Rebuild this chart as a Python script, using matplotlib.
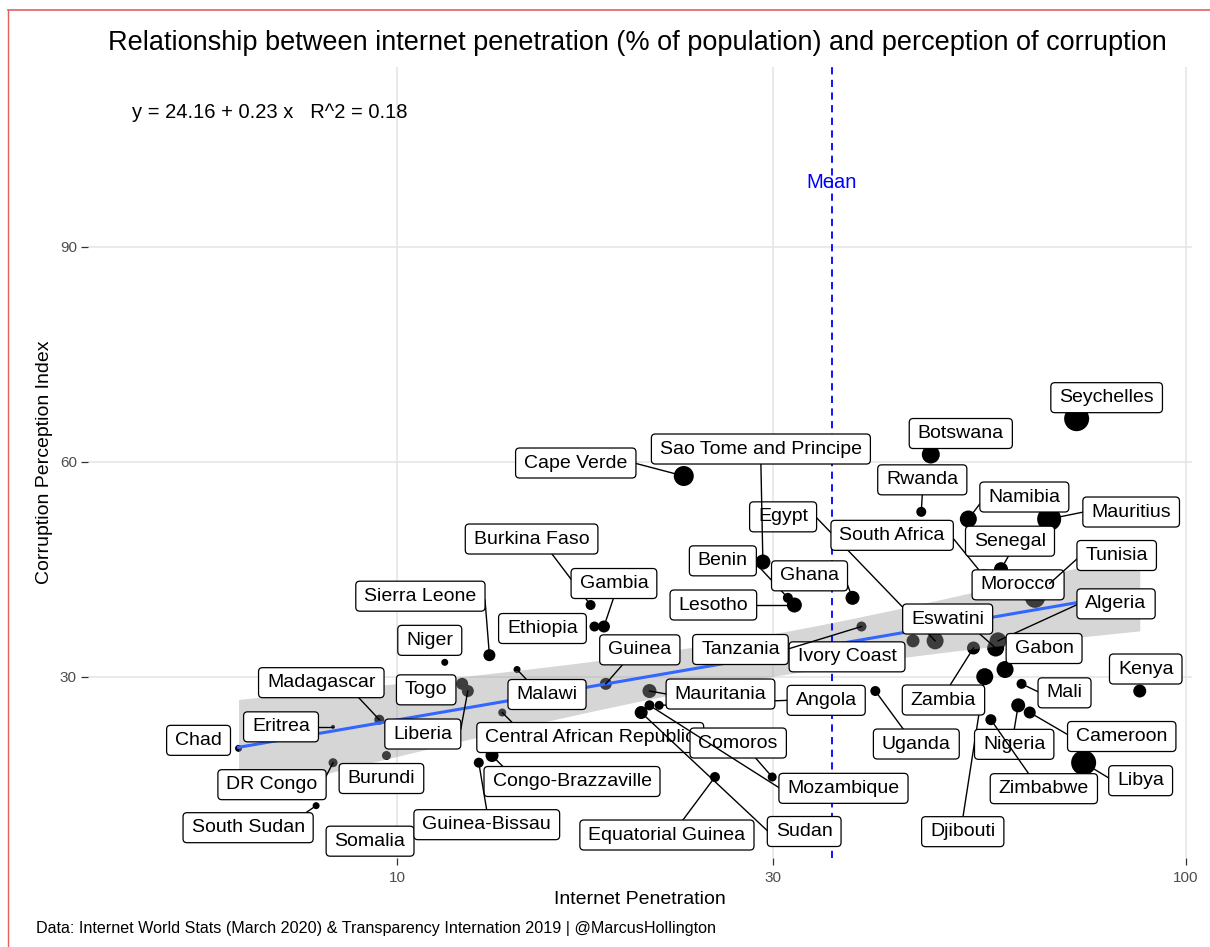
import numpy as np
import matplotlib
matplotlib.use("Agg")
import matplotlib.pyplot as plt
from matplotlib.patches import FancyBboxPatch
from matplotlib.lines import Line2D
from matplotlib.transforms import IdentityTransform
from matplotlib.ticker import FixedLocator, NullLocator

plt.rcParams['font.family'] = ['Liberation Sans', 'DejaVu Sans']

# data (internet % of population, CPI 2019, relative bubble size)
countries = ["Seychelles", "Botswana", "Egypt", "Sao Tome and Principe", "Cape Verde", "Rwanda",
             "Namibia", "Mauritius", "South Africa", "Senegal", "Morocco", "Tunisia",
             "Burkina Faso", "Benin", "Ghana", "Gambia", "Sierra Leone", "Lesotho", "Ethiopia",
             "Eswatini", "Algeria", "Niger", "Guinea", "Ivory Coast", "Tanzania", "Gabon", "Kenya",
             "Madagascar", "Togo", "Malawi", "Angola", "Mauritania", "Uganda", "Djibouti", "Zambia",
             "Mali", "Chad", "Eritrea", "Liberia", "Central African Republic", "Comoros", "Nigeria",
             "Cameroon", "Zimbabwe", "Libya", "DR Congo", "Burundi", "Congo-Brazzaville",
             "Mozambique", "Equatorial Guinea", "Sudan", "South Sudan", "Somalia", "Guinea-Bissau"]
internet = [72.7, 47.5, 48.1, 29.1, 23.1, 46.2,
            53.0, 67.1, 55.5, 58.3, 64.4, 67.2,
            17.6, 31.3, 37.8, 18.3, 13.1, 31.9, 17.8,
            57.4, 57.8, 11.5, 18.4, 45.1, 38.8, 59.0, 87.4,
            9.5, 12.1, 14.2, 21.5, 20.9, 40.4, 55.6, 53.8,
            61.9, 6.3, 8.3, 12.3, 13.6, 29.9, 61.3,
            63.4, 56.6, 74.2, 8.3, 9.7, 13.2,
            20.9, 25.3, 20.4, 7.9, 10.7, 12.7]
cpi = [66, 61, 35, 46, 58, 53,
       52, 52, 44, 45, 41, 43,
       40, 41, 41, 37, 33, 40, 37,
       34, 35, 32, 29, 35, 37, 31, 28,
       24, 29, 31, 26, 28, 28, 30, 34,
       29, 20, 23, 28, 25, 16, 26,
       25, 24, 18, 18, 19, 19,
       26, 16, 25, 12, 9, 18]
bubble = [25, 18, 17, 15, 20, 10,
          17, 24, 14, 14, 20, 15,
          10, 10, 14, 12, 12, 15, 10,
          17, 17, 7, 12, 13, 10, 17, 13,
          10, 12, 7, 9, 14, 10, 17, 13,
          10, 7, 4, 12, 8, 9, 14,
          12, 11, 25, 9, 9, 13,
          10, 10, 13, 7, 12, 10]

# label placement (repel result), offset from the point in pixels (right, up)
label_dx = [30, 30, -152, -2, -108, 1,
            56, 82, -92, 9, -17, 67,
            -59, -65, -43, 10, -69, -81, -52,
            -48, 118, -15, 34, -66, -121, 39, 6,
            -58, -36, 30, 167, 71, 41, -22, -30,
            43, -40, -52, -45, 88, -34, -4,
            92, 53, 57, -61, -5, 80,
            194, -48, 163, -68, -50, 8]
label_dy = [21, 21, 124, 113, 13, 32,
            22, 7, 41, 28, 13, 28,
            66, 37, 22, 43, 59, 0, -2,
            29, 37, 22, 34, -16, -23, 21, 22,
            37, -6, -25, 5, -3, -53, -155, -52,
            -9, 8, 0, -43, -25, 34, -39,
            -24, -69, -18, -22, -23, -26,
            -83, -58, -119, -22, -14, -62]

W, H = 1210, 947
fig = plt.figure(figsize=(W / 100, H / 100), dpi=100)
ax = fig.add_axes([88 / W, 1 - 858 / H, (1192 - 88) / W, (858 - 67) / H])

x = np.array(internet)
y = np.array(cpi, dtype=float)

ax.set_xscale('log')
ax.set_xlim(4.06, 101.8)
ax.set_ylim(4.7, 115.07)
ax.xaxis.set_major_locator(FixedLocator([10, 30, 100]))
ax.xaxis.set_minor_locator(NullLocator())
ax.set_xticklabels(['10', '30', '100'])
ax.set_yticks([30, 60, 90])
for s in ax.spines.values():
    s.set_visible(False)
ax.grid(True, color='#e4e4e4', lw=1.1)
ax.set_axisbelow(True)
ax.tick_params(axis='both', length=5, width=0.9, color='#333333', labelcolor='#4d4d4d', labelsize=11)
ax.tick_params(axis='x', pad=4)
ax.tick_params(axis='y', pad=3)

# points
ax.scatter(x, y, s=(0.72 * np.array(bubble)) ** 2, color='black', linewidths=0, zorder=2)

# linear fit on log10(x) with 95% band
lx = np.log10(x)
n = len(lx)
b1, b0 = np.polyfit(lx, y, 1)
grid = np.linspace(lx.min(), lx.max(), 100)
fit = b0 + b1 * grid
resid = y - (b0 + b1 * lx)
s_err = np.sqrt(np.sum(resid ** 2) / (n - 2))
se = s_err * np.sqrt(1 / n + (grid - lx.mean()) ** 2 / np.sum((lx - lx.mean()) ** 2))
t_val = 2.0066
ax.fill_between(10 ** grid, fit - t_val * se, fit + t_val * se, color='#999999', alpha=0.4, lw=0, zorder=3)
ax.plot(10 ** grid, fit, color='#3366FF', lw=2.2, zorder=4)

# mean line
mean_x = x.mean()
ax.axvline(mean_x, color='blue', lw=1.3, ls=(0, (4, 3)), zorder=5)
ax.text(mean_x, 99, 'Mean', color='blue', fontsize=14.5, ha='center', va='center', zorder=5)

ax.text(6.9, 108.7, 'y = 24.16 + 0.23 x   R^2 = 0.18', fontsize=14.5, ha='center', va='center')


def connect(p, b):
    x1, y1, x2, y2 = b
    ox = min(max(p[0], x1), x2)
    oy = min(max(p[1], y1), y2)
    mx, my = (x1 + x2) / 2, (y1 + y2) / 2
    out_x = p[0] < x1 or p[0] > x2
    out_y = p[1] < y1 or p[1] > y2
    d = np.hypot(p[0] - ox, p[1] - oy)

    def slide_x():
        alt = np.hypot(p[0] - mx, p[1] - oy)
        return ox + (mx - ox) * d / alt, oy

    def slide_y():
        alt = np.hypot(p[0] - ox, p[1] - my)
        return ox, oy + (my - oy) * d / alt

    if out_y and not out_x:
        return slide_x()
    if out_x and not out_y:
        return slide_y()
    if out_x and out_y:
        a, c = slide_x(), slide_y()
        return min((a, c), key=lambda q: np.hypot(q[0] - p[0], q[1] - p[1]))
    return ox, oy


fig.canvas.draw()
renderer = fig.canvas.get_renderer()
ident = IdentityTransform()
pts = ax.transData.transform(np.column_stack([x, y]))
for i, name in enumerate(countries):
    px, py = pts[i]
    cx, cy = px + label_dx[i], py + label_dy[i]
    z = 10 + 3 * i
    t = ax.text(cx, cy, name, transform=ident, ha='center', va='center', fontsize=14,
                zorder=z + 2, clip_on=False)
    ext = t.get_window_extent(renderer)
    bw, bh = ext.width + 17, 30
    x0, y0 = cx - bw / 2, cy - bh / 2
    ax.add_patch(FancyBboxPatch((x0, y0), bw, bh, boxstyle='round,pad=0,rounding_size=4',
                                transform=ident, fc='white', ec='black', lw=0.9,
                                zorder=z + 1, clip_on=False))
    ex, ey = connect((px, py), (x0, y0, x0 + bw, y0 + bh))
    if np.hypot(ex - px, ey - py) > 12:
        ax.add_line(Line2D([px, ex], [py, ey], transform=ident, color='black', lw=1.0,
                           zorder=z, clip_on=False))

fig.text(637 / W, 1 - 43 / H, 'Relationship between internet penetration (% of population) and perception of corruption',
         fontsize=19.5, ha='center', va='center')
fig.text(640 / W, 1 - 900 / H, 'Internet Penetration', fontsize=14, ha='center', va='center')
fig.text(45 / W, 1 - 462 / H, 'Corruption Perception Index', fontsize=14, ha='center', va='center',
         rotation=90)
fig.text(36 / W, 1 - 928 / H,
         'Data: Internet World Stats (March 2020) & Transparency Internation 2019 | @MarcusHollington',
         fontsize=11.6, ha='left', va='center')

# frame lines along top and left edge
fig.add_artist(Line2D([8 / W, 1], [1 - 10 / H, 1 - 10 / H], color='#e06060', lw=1.2))
fig.add_artist(Line2D([8 / W, 8 / W], [0, 1 - 10 / H], color='#e06060', lw=1.0))

fig.savefig('out.png', dpi=100)
